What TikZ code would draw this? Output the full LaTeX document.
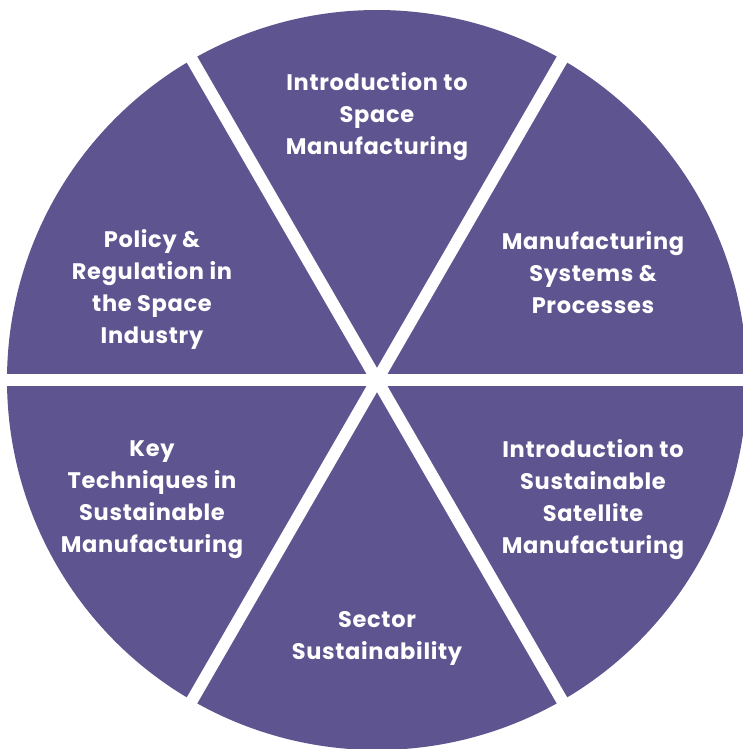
\documentclass[tikz,border=0pt]{standalone}
\usepackage{fontspec}
\setmainfont{Poppins}[LetterSpace=3]
\usetikzlibrary{positioning}
\definecolor{wheel}{RGB}{94,84,144}
\tikzstyle{wedge} = [fill=wheel]
\tikzstyle{gap} = [draw=white, line width=12pt]
\tikzstyle{topic} = [text=white, align=center, font=\bfseries\fontsize{22.5}{32}\selectfont]
\newcommand{\topic}[3]{
\node (#1) [topic] at (#2) {#3};}

\begin{document}
\begin{tikzpicture}[x=1pt, y=1pt]

		% Page frame, the wheel runs off right and bottom
		\useasboundingbox (-377,-369) rectangle (366,380);
		\clip (-377,-369) rectangle (366,380);

		% Draw the six wedges
		\foreach \a in {0,60,...,300}
			\path [wedge] (0,0) -- (\a:370) arc (\a:\a+60:370) -- cycle;

		% Draw white gaps between wedges
		\foreach \a in {0,60,120}
			\path [gap] (\a:380) -- (\a+180:380);

		% Draw topic texts
		\topic{intro}{0,263}{Introduction to\\Space\\Manufacturing};
		\topic{systems}{216,107}{Manufacturing\\Systems \&\\Processes};
		\topic{satellite}{216,-120}{Introduction to\\Sustainable\\Satellite\\Manufacturing};
		\topic{sector}{0,-258}{Sector\\Sustainability};
		\topic{techniques}{-225,-120}{Key\\Techniques in\\Sustainable\\Manufacturing};
		\topic{policy}{-225,91}{Policy \&\\Regulation in\\the Space\\Industry};

\end{tikzpicture}
\end{document}
